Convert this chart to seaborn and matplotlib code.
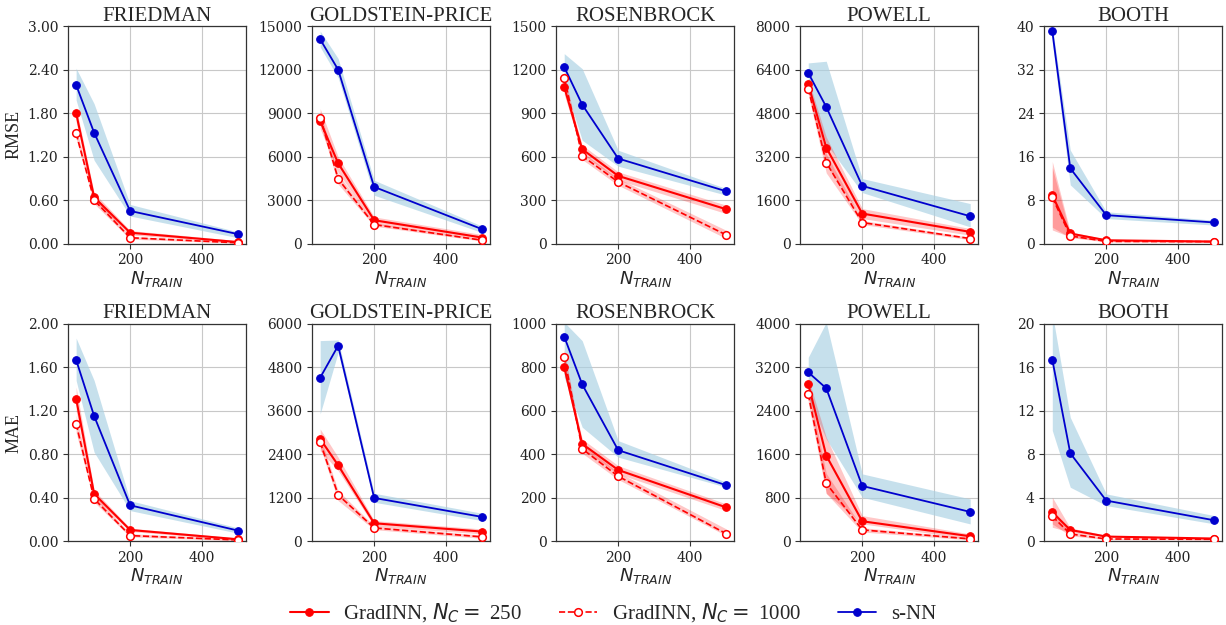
import numpy as np
import matplotlib
matplotlib.use("Agg")
import matplotlib.pyplot as plt
import seaborn as sns
from matplotlib.ticker import FixedLocator, FormatStrFormatter

# ---------------- data ----------------
N_TRAIN = [50, 100, 200, 500]
FUNCTIONS = ["FRIEDMAN", "GOLDSTEIN-PRICE", "ROSENBROCK", "POWELL", "BOOTH"]
METRICS = ["RMSE", "MAE"]

RMSE_YMAX = [3.0, 15000, 1500, 8000, 40]
MAE_YMAX = [2.0, 6000, 1000, 4000, 20]

# RMSE, GradINN Nc=250
rmse_g250 = [[1.80, 0.64, 0.15, 0.02], [8460, 5540, 1610, 414], [1081, 651, 467, 237],
             [5865, 3534, 1104, 429], [8.9, 1.85, 0.6, 0.37]]
rmse_g250_lo = [[1.68, 0.58, 0.12, 0.01], [7935, 4900, 1330, 276], [1030, 620, 437, 207],
                [5600, 2900, 920, 307], [2.5, 1.2, 0.4, 0.25]]
rmse_g250_hi = [[1.88, 0.70, 0.18, 0.04], [9315, 5980, 1840, 620], [1120, 680, 495, 265],
                [6050, 3926, 1288, 552], [15.1, 2.15, 0.8, 0.5]]
# RMSE, GradINN Nc=1000
rmse_g1000 = [[1.52, 0.60, 0.08, 0.01], [8700, 4460, 1310, 230], [1143, 605, 425, 60],
              [5706, 2982, 773, 184], [8.5, 1.4, 0.4, 0.35]]
rmse_g1000_lo = [[1.45, 0.55, 0.06, 0.005], [8300, 4100, 1200, 170], [1100, 580, 402, 35],
                 [5500, 2600, 700, 140], [3.0, 1.1, 0.3, 0.25]]
rmse_g1000_hi = [[1.60, 0.65, 0.10, 0.02], [9100, 4800, 1420, 300], [1180, 630, 449, 92],
                 [5900, 3300, 850, 230], [14.0, 1.7, 0.5, 0.45]]
# RMSE, s-NN
rmse_snn = [[2.19, 1.53, 0.45, 0.13], [14100, 12000, 3910, 990], [1219, 959, 587, 361],
            [6282, 5031, 2123, 1006], [39.1, 13.85, 5.23, 3.88]]
rmse_snn_lo = [[1.98, 1.15, 0.38, 0.08], [13570, 11450, 3335, 760], [1104, 713, 534, 334],
               [5770, 3681, 1877, 613], [37.0, 10.8, 4.6, 3.4]]
rmse_snn_hi = [[2.42, 1.93, 0.54, 0.16], [14670, 12770, 4370, 1200], [1311, 1207, 644, 380],
               [6650, 6712, 2393, 1472], [40.0, 17.2, 5.85, 4.3]]

# MAE, GradINN Nc=250
mae_g250 = [[1.31, 0.436, 0.104, 0.018], [2825, 2098, 497, 267], [802, 448, 328, 156],
            [2896, 1577, 368, 92], [2.67, 1.04, 0.43, 0.25]]
mae_g250_lo = [[1.20, 0.40, 0.09, 0.01], [2500, 1950, 414, 202], [770, 425, 310, 141],
               [2750, 883, 319, 43], [1.29, 0.83, 0.33, 0.18]]
mae_g250_hi = [[1.42, 0.47, 0.12, 0.03], [3100, 2318, 570, 340], [830, 470, 348, 172],
               [3000, 1914, 472, 135], [4.05, 1.23, 0.55, 0.32]]
# MAE, GradINN Nc=1000
mae_g1000 = [[1.08, 0.39, 0.052, 0.012], [2733, 1279, 368, 120], [850, 425, 299, 35],
             [2706, 1067, 209, 43], [2.30, 0.67, 0.21, 0.18]]
mae_g1000_lo = [[1.00, 0.36, 0.04, 0.005], [2600, 1122, 320, 80], [820, 405, 284, 26],
                [2550, 880, 170, 25], [1.6, 0.5, 0.15, 0.12]]
mae_g1000_hi = [[1.16, 0.42, 0.07, 0.02], [2880, 1400, 420, 170], [880, 445, 317, 57],
                [2850, 1250, 250, 65], [3.0, 0.85, 0.28, 0.24]]
# MAE, s-NN
mae_snn = [[1.669, 1.153, 0.331, 0.098], [4517, 5400, 1196, 672], [942, 722, 419, 258],
           [3110, 2816, 1018, 540], [16.72, 8.1, 3.74, 1.93]]
mae_snn_lo = [[1.48, 0.82, 0.282, 0.074], [3515, 5216, 1076, 570], [755, 525, 387, 249],
              [2650, 1883, 810, 319], [10.2, 4.97, 3.28, 1.6]]
mae_snn_hi = [[1.87, 1.48, 0.374, 0.123], [5540, 5557, 1325, 773], [1008, 923, 463, 272],
              [3387, 4030, 1240, 779], [21.0, 11.4, 4.36, 2.36]]

SERIES_LABELS = ["GradINN, $N_C = $ 250", "GradINN, $N_C = $ 1000", "s-NN"]

# ---------------- style ----------------
sns.set_style("ticks")
plt.rcParams['font.family'] = ['DejaVu Serif']
plt.rcParams['mathtext.fontset'] = 'dejavusans'
plt.rcParams['axes.edgecolor'] = '#333333'
plt.rcParams['axes.linewidth'] = 0.9
plt.rcParams['xtick.color'] = '#333333'
plt.rcParams['ytick.color'] = '#333333'
plt.rcParams['xtick.labelcolor'] = '#222222'
plt.rcParams['ytick.labelcolor'] = '#222222'

RED = '#ff0000'
BLUE = '#0000cd'
RED_BAND = '#ff0000'
BLUE_BAND = '#a8d0e3'

fig, axes = plt.subplots(2, 5, figsize=(12.26, 6.25), dpi=100)
fig.subplots_adjust(left=0.0555, right=0.997, top=0.958, bottom=0.134,
                    wspace=0.37, hspace=0.37)

data_rows = [
    (rmse_g250, rmse_g250_lo, rmse_g250_hi, rmse_g1000, rmse_g1000_lo, rmse_g1000_hi,
     rmse_snn, rmse_snn_lo, rmse_snn_hi, RMSE_YMAX),
    (mae_g250, mae_g250_lo, mae_g250_hi, mae_g1000, mae_g1000_lo, mae_g1000_hi,
     mae_snn, mae_snn_lo, mae_snn_hi, MAE_YMAX),
]

for r, row in enumerate(data_rows):
    g250, g250_lo, g250_hi, g1000, g1000_lo, g1000_hi, snn, snn_lo, snn_hi, ymax = row
    for c, fname in enumerate(FUNCTIONS):
        ax = axes[r, c]
        # bands
        ax.fill_between(N_TRAIN, snn_lo[c], snn_hi[c], color=BLUE_BAND, alpha=0.65,
                        linewidth=0, zorder=1)
        ax.fill_between(N_TRAIN, g250_lo[c], g250_hi[c], color=RED_BAND, alpha=0.22,
                        linewidth=0, zorder=1)
        ax.fill_between(N_TRAIN, g1000_lo[c], g1000_hi[c], color=RED_BAND, alpha=0.22,
                        linewidth=0, zorder=1)
        # lines
        sns.lineplot(x=N_TRAIN, y=g250[c], ax=ax, color=RED, marker='o', markersize=5.5,
                     markeredgecolor=RED, markerfacecolor=RED, linewidth=1.5,
                     label=SERIES_LABELS[0], zorder=4)
        sns.lineplot(x=N_TRAIN, y=g1000[c], ax=ax, color=RED, marker='o', markersize=5.5,
                     markeredgecolor=RED, markerfacecolor='white', markeredgewidth=1.1,
                     linewidth=1.2, linestyle='--', dashes=(3.5, 2.0),
                     label=SERIES_LABELS[1], zorder=5)
        sns.lineplot(x=N_TRAIN, y=snn[c], ax=ax, color=BLUE, marker='o', markersize=5.5,
                     markeredgecolor=BLUE, markerfacecolor=BLUE, linewidth=1.3,
                     label=SERIES_LABELS[2], zorder=3)
        if ax.get_legend() is not None:
            ax.get_legend().remove()

        ax.set_xlim(27.5, 522.5)
        ax.set_ylim(0, ymax[c])
        ax.xaxis.set_major_locator(FixedLocator([200, 400]))
        ax.yaxis.set_major_locator(FixedLocator(np.linspace(0, ymax[c], 6)))
        if c == 0:
            ax.yaxis.set_major_formatter(FormatStrFormatter('%.2f'))
        else:
            ax.yaxis.set_major_formatter(FormatStrFormatter('%d'))
        ax.tick_params(labelsize=10, length=3.5, width=0.8)
        ax.grid(True, color='#c8c8c8', linewidth=0.8, zorder=0)
        ax.set_axisbelow(True)
        ax.set_title(fname, fontsize=15, family='Liberation Serif', pad=4)
        ax.set_xlabel('$N_{TRAIN}$', fontsize=13, labelpad=1)
        if c == 0:
            ax.set_ylabel(METRICS[r], fontsize=13, family='Liberation Serif')
        else:
            ax.set_ylabel('')

handles, labels = axes[0, 0].get_legend_handles_labels()
order = [labels.index(l) for l in SERIES_LABELS]
leg = fig.legend([handles[i] for i in order], [labels[i] for i in order],
                 loc='lower center', bbox_to_anchor=(0.5, -0.03), ncol=3, frameon=False,
                 prop={'family': 'Liberation Serif', 'size': 15}, columnspacing=1.75,
                 handlelength=1.85, handletextpad=0.7)

fig.savefig('out.png', dpi=100)
